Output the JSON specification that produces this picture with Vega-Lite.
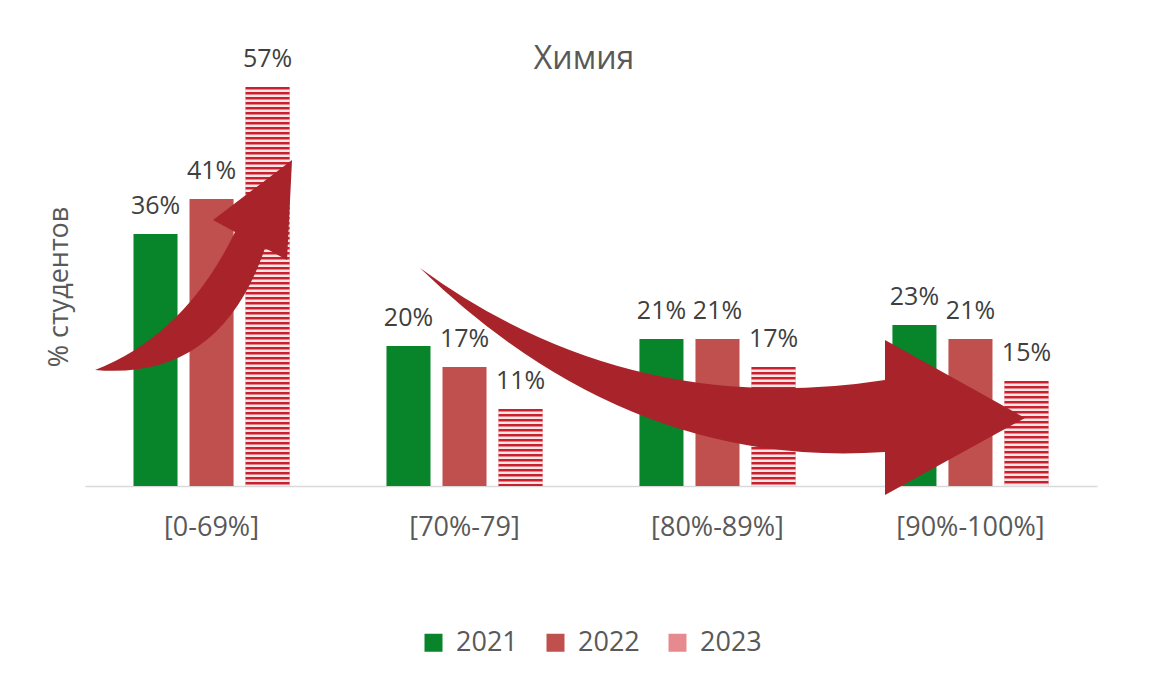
{
  "$schema": "https://vega.github.io/schema/vega-lite/v6.json",
  "width": 1012,
  "height": 399,
  "autosize": {"type": "none"},
  "padding": {"left": 85, "top": 87, "right": 52, "bottom": 191},
  "background": "white",
  "config": {"view": {"stroke": null}, "legend": {"layout": {"bottom": {"anchor": "middle"}}}},
  "title": {"text": "Химия", "fontSize": 32, "font": "Open Sans", "fontWeight": "normal", "color": "#595959", "baseline": "alphabetic", "offset": -54, "frame": "group", "anchor": "middle", "dx": -7},
  "data": {"values": [
    {"cat": "[0-69%]", "year": "2021", "value": 0.36},
    {"cat": "[0-69%]", "year": "2022", "value": 0.41},
    {"cat": "[0-69%]", "year": "2023", "value": 0.57},
    {"cat": "[70%-79]", "year": "2021", "value": 0.20},
    {"cat": "[70%-79]", "year": "2022", "value": 0.17},
    {"cat": "[70%-79]", "year": "2023", "value": 0.11},
    {"cat": "[80%-89%]", "year": "2021", "value": 0.21},
    {"cat": "[80%-89%]", "year": "2022", "value": 0.21},
    {"cat": "[80%-89%]", "year": "2023", "value": 0.17},
    {"cat": "[90%-100%]", "year": "2021", "value": 0.23},
    {"cat": "[90%-100%]", "year": "2022", "value": 0.21},
    {"cat": "[90%-100%]", "year": "2023", "value": 0.15}
  ]},
  "layer": [
    {
      "mark": {"type": "bar"},
      "encoding": {
        "x": {"field": "cat", "type": "nominal", "title": null,
          "scale": {"domain": ["[0-69%]", "[70%-79]", "[80%-89%]", "[90%-100%]"], "paddingInner": 0.383, "paddingOuter": 0.1917},
          "axis": {"labelAngle": 0, "labelFontSize": 27, "labelFont": "Open Sans", "labelColor": "#595959", "labelPadding": 28, "ticks": false, "tickSize": 0, "domain": true, "domainColor": "#D9D9D9", "domainWidth": 1.5, "grid": false}},
        "xOffset": {"field": "year", "type": "nominal", "scale": {"domain": ["2021", "2022", "2023"], "paddingInner": 0.214, "paddingOuter": 0}},
        "y": {"field": "value", "type": "quantitative", "title": "% студентов",
          "scale": {"domain": [0, 0.57], "nice": false},
          "axis": {"labels": false, "ticks": false, "domain": false, "grid": false, "minExtent": 0, "titleFontSize": 27, "titleFont": "Open Sans", "titleFontWeight": "normal", "titleColor": "#595959", "titlePadding": 12}},
        "color": {"field": "year", "type": "nominal",
          "scale": {"domain": ["2021", "2022", "2023"], "range": ["#08842A", "#C0504D", "#E78A90"]},
          "legend": {"orient": "bottom", "direction": "horizontal", "title": null, "symbolType": "square", "symbolSize": 324, "symbolStrokeWidth": 0, "labelFontSize": 27, "labelFont": "Open Sans", "labelColor": "#595959", "labelOffset": 9, "columnPadding": 24, "offset": 89}
        }
      }
    },
    {
      "transform": [{"filter": "datum.year === '2023'"}],
      "mark": {"type": "rule", "strokeWidth": 44, "color": "#FBE6E6", "strokeCap": "butt"},
      "encoding": {
        "x": {"field": "cat", "type": "nominal", "title": null},
        "xOffset": {"field": "year", "type": "nominal"},
        "y": {"field": "value", "type": "quantitative", "title": "% студентов"},
        "y2": {"datum": 0}
      }
    },
    {
      "transform": [{"filter": "datum.year === '2023'"}],
      "mark": {"type": "rule", "strokeWidth": 44, "strokeDash": [2.5, 2.5], "color": "#C8202E", "strokeCap": "butt"},
      "encoding": {
        "x": {"field": "cat", "type": "nominal", "title": null},
        "xOffset": {"field": "year", "type": "nominal"},
        "y": {"field": "value", "type": "quantitative", "title": "% студентов"},
        "y2": {"datum": 0}
      }
    },
    {
      "transform": [{"filter": "datum.cat === '[0-69%]' && datum.year === '2021'"}],
      "mark": {"type": "point", "shape": "M-1.165,1.64 Q-0.265,1.29 0.235,0.26 L0.015,0.14 L0.805,-0.46 L0.755,0.54 L0.535,0.42 Q0.085,1.75 -1.165,1.64 Z", "size": 40000, "filled": true, "color": "#A8242A", "opacity": 1, "strokeWidth": 0},
      "encoding": {
        "x": {"datum": "[0-69%]", "type": "nominal", "title": null},
        "y": {"datum": 0.40, "type": "quantitative", "title": "% студентов"}
      }
    },
    {
      "transform": [{"filter": "datum.cat === '[80%-89%]' && datum.year === '2021'"}],
      "mark": {"type": "point", "shape": "M-2.975,-1.48 Q-0.895,0.04 1.675,-0.36 L1.675,-0.76 L3.075,0.02 L1.675,0.79 L1.675,0.36 Q-0.895,0.54 -2.975,-1.48 Z", "size": 40000, "filled": true, "color": "#A8242A", "opacity": 1, "strokeWidth": 0},
      "encoding": {
        "x": {"datum": "[80%-89%]", "type": "nominal", "title": null},
        "y": {"datum": 0.10, "type": "quantitative", "title": "% студентов"}
      }
    },
    {
      "mark": {"type": "text", "font": "Open Sans", "fontSize": 25, "color": "#404040", "baseline": "alphabetic", "align": "center", "dy": -20},
      "encoding": {
        "x": {"field": "cat", "type": "nominal", "title": null},
        "xOffset": {"field": "year", "type": "nominal"},
        "y": {"field": "value", "type": "quantitative", "title": "% студентов"},
        "text": {"field": "value", "type": "quantitative", "format": ".0%"}
      }
    }
  ]
}
